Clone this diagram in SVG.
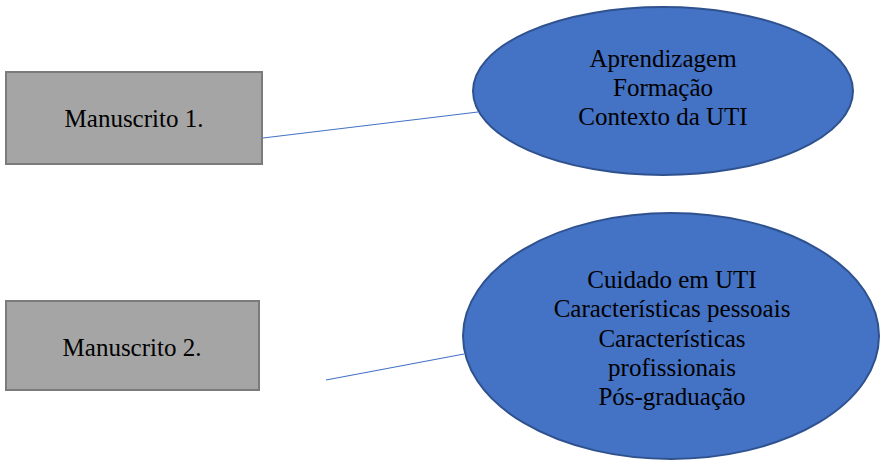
<svg xmlns="http://www.w3.org/2000/svg" width="880" height="460" viewBox="0 0 880 460">
<style>
.box{fill:#a5a5a5;stroke:#7b7b7b;stroke-width:2}
.ell{fill:#4472c4;stroke:#2f528f;stroke-width:2}
.t{font-family:"Liberation Serif","Times New Roman",serif;font-size:25px;fill:#000;text-anchor:middle}
.c{stroke:#4472c4;stroke-width:1.2;fill:none}
</style>
<rect width="880" height="460" fill="#fff"/>
<g id="connectors">
<line class="c" x1="263" y1="138" x2="478" y2="112"/>
<line class="c" x1="326" y1="380" x2="464" y2="354"/>
</g>
<g id="m1">
<rect class="box" x="6" y="72" width="256" height="92"/>
<text class="t" x="134" y="127">Manuscrito 1.</text>
</g>
<g id="m2">
<rect class="box" x="6" y="301" width="253" height="89"/>
<text class="t" x="132" y="356">Manuscrito 2.</text>
</g>
<g id="e1">
<ellipse class="ell" cx="663" cy="91" rx="190" ry="84"/>
<text class="t" x="663" y="67">Aprendizagem</text>
<text class="t" x="663" y="96">Formação</text>
<text class="t" x="663" y="125">Contexto da UTI</text>
</g>
<g id="e2">
<ellipse class="ell" cx="671" cy="336" rx="208" ry="123"/>
<text class="t" x="672" y="288">Cuidado em UTI</text>
<text class="t" x="672" y="317">Características pessoais</text>
<text class="t" x="672" y="347">Características</text>
<text class="t" x="672" y="376">profissionais</text>
<text class="t" x="672" y="405">Pós-graduação</text>
</g>
</svg>
